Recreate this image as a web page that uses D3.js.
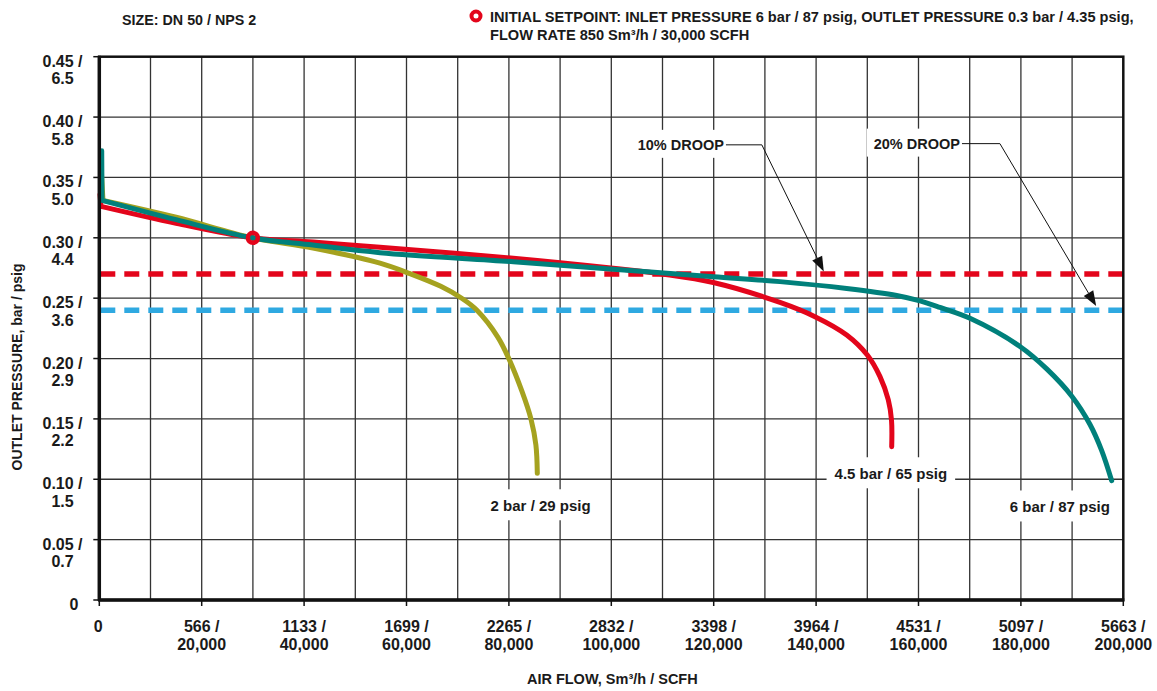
<!DOCTYPE html>
<html>
<head>
<meta charset="utf-8">
<script src="https://cdn.jsdelivr.net/npm/d3@7"></script>
<style>
  body { margin: 0; background: #fff; }
  svg text { font-family: "Liberation Sans", Arial, sans-serif; font-weight: bold; fill: #1a1a1a; }
</style>
</head>
<body>
<svg id="chart"></svg>
<script>
// axis ticks
const xTicksScfh = [0, 20000, 40000, 60000, 80000, 100000, 120000, 140000, 160000, 180000, 200000];
const xTicksSm3 = ["0", "566", "1133", "1699", "2265", "2832", "3398", "3964", "4531", "5097", "5663"];
const yTicksBar = [0, 0.05, 0.10, 0.15, 0.20, 0.25, 0.30, 0.35, 0.40, 0.45];
const yTicksBarLabel = ["0", "0.05", "0.10", "0.15", "0.20", "0.25", "0.30", "0.35", "0.40", "0.45"];
const yTicksPsig = ["", "0.7", "1.5", "2.2", "2.9", "3.6", "4.4", "5.0", "5.8", "6.5"];

// 2 bar / 29 psig inlet
const scfh2bar = [330, 720, 15000, 29824, 41738, 54824, 60684, 66700, 70781, 73711, 77832, 80020, 82558, 84316, 85273, 85547];
const bar2bar  = [0.360, 0.331, 0.317, 0.300, 0.2915, 0.279, 0.2703, 0.2598, 0.2499, 0.2402, 0.2178, 0.1996, 0.1728, 0.1499, 0.1284, 0.1049];

// 4.5 bar / 65 psig inlet
const scfh45bar = [140, 330, 15000, 29824, 41738, 54824, 80859, 100391, 110039, 119922, 132949, 139785, 145977, 150000, 152480, 154102, 154727, 154766];
const bar45bar  = [0.336, 0.326, 0.312, 0.300, 0.2965, 0.2921, 0.283, 0.2747, 0.270, 0.263, 0.2465, 0.2347, 0.2195, 0.2029, 0.185, 0.1657, 0.149, 0.127];

// 6 bar / 87 psig inlet
const scfh6bar = [470, 530, 15000, 29824, 41738, 54824, 80859, 100391, 119922, 132949, 145977, 155742, 160293, 164199, 170059, 180020, 185039, 189980, 193496, 195781, 197734];
const bar6bar  = [0.372, 0.331, 0.315, 0.300, 0.294, 0.2877, 0.2802, 0.274, 0.2678, 0.2637, 0.258, 0.2522, 0.2477, 0.2423, 0.2333, 0.2094, 0.1914, 0.1686, 0.1454, 0.1238, 0.0988];

const seriesNames = ["2 bar / 29 psig", "4.5 bar / 65 psig", "6 bar / 87 psig"];

// droop lines and setpoint
const droopLabels = ["10% DROOP", "20% DROOP"];
const droopValues = [0.27, 0.24];
const setpointScfh = 30000;
const setpointBar = 0.30;

class DroopChart {
  constructor(_config) {
    this.config = {
      parentElement: _config.parentElement,
      containerWidth: _config.containerWidth || 1157,
      containerHeight: _config.containerHeight || 691,
      margin: { top: 56.7, bottom: 91, right: 33.7, left: 99.3 }
    }
    this.initVis();
  }

  initVis() {
    let vis = this;
    vis.width = vis.config.containerWidth - vis.config.margin.left - vis.config.margin.right;
    vis.height = vis.config.containerHeight - vis.config.margin.top - vis.config.margin.bottom;

    vis.svg = d3.select(vis.config.parentElement)
        .attr('width', vis.config.containerWidth)
        .attr('height', vis.config.containerHeight);

    vis.xScale = d3.scaleLinear()
        .domain([0, 200000])
        .range([vis.config.margin.left, vis.config.margin.left + vis.width]);

    vis.yScale = d3.scaleLinear()
        .domain([0, 0.45])
        .range([vis.config.margin.top + vis.height, vis.config.margin.top]);

    vis.colors = {
      olive: '#a5a21f',
      red: '#e3051b',
      teal: '#00807b',
      blue: '#2fa9e1'
    };

    vis.renderVis();
  }

  renderVis() {
    let vis = this;
    const x = vis.xScale, y = vis.yScale;
    const x0 = x(0), x1 = x(200000), y0 = y(0), y1 = y(0.45);

    // grid
    const grid = vis.svg.append('g').attr('class', 'grid');
    grid.selectAll('.vgrid')
      .data(d3.range(10000, 200000, 10000))
      .join('line')
      .attr('x1', d => x(d)).attr('x2', d => x(d))
      .attr('y1', y1).attr('y2', y0)
      .attr('stroke', '#333').attr('stroke-width', 1.3);
    grid.selectAll('.hgrid')
      .data(yTicksBar.slice(1, -1))
      .join('line')
      .attr('x1', x0).attr('x2', x1)
      .attr('y1', d => y(d)).attr('y2', d => y(d))
      .attr('stroke', '#333').attr('stroke-width', 1.3);

    // white boxes behind labels (cut the grid)
    vis.labelLayer = vis.svg.append('g');

    // droop dashed lines
    vis.svg.selectAll('.droop')
      .data(droopValues)
      .join('line')
      .attr('x1', x0 + 1).attr('x2', x1)
      .attr('y1', d => y(d)).attr('y2', d => y(d))
      .attr('stroke', (d, i) => i === 0 ? vis.colors.red : vis.colors.blue)
      .attr('stroke-width', 5.5)
      .attr('stroke-dasharray', '15,9');

    // curves: straight start-up spike, then a smooth curve
    const line = d3.line()
      .x(d => x(d[0]))
      .y(d => y(d[1]))
      .curve(d3.curveCatmullRom.alpha(0.5));
    const curvePath = pts => `M${x(pts[0][0])},${y(pts[0][1])}L` + line(pts.slice(1)).slice(1);

    const curves = [
      { pts: d3.zip(scfh2bar, bar2bar), color: vis.colors.olive },
      { pts: d3.zip(scfh45bar, bar45bar), color: vis.colors.red },
      { pts: d3.zip(scfh6bar, bar6bar), color: vis.colors.teal }
    ];
    vis.svg.selectAll('.curve')
      .data(curves)
      .join('path')
      .attr('class', 'curve')
      .attr('d', d => curvePath(d.pts))
      .attr('fill', 'none')
      .attr('stroke', d => d.color)
      .attr('stroke-width', 5)
      .attr('stroke-linecap', 'round')
      .attr('stroke-linejoin', 'round');

    // setpoint marker
    vis.svg.append('circle')
      .attr('cx', x(setpointScfh)).attr('cy', y(setpointBar))
      .attr('r', 5)
      .attr('fill', 'none')
      .attr('stroke', vis.colors.red)
      .attr('stroke-width', 4.5);

    // frame
    vis.svg.append('rect')
      .attr('x', x0).attr('y', y1)
      .attr('width', x1 - x0).attr('height', y0 - y1)
      .attr('fill', 'none').attr('stroke', '#111').attr('stroke-width', 2.5);
    vis.svg.append('line').attr('x1', x0).attr('x2', x0).attr('y1', y1 - 1).attr('y2', y0 + 1)
      .attr('stroke', '#111').attr('stroke-width', 3.5);
    vis.svg.append('line').attr('x1', x0 - 1).attr('x2', x1 + 1).attr('y1', y0).attr('y2', y0)
      .attr('stroke', '#111').attr('stroke-width', 3.5);

    // y ticks and labels
    const yAxis = vis.svg.append('g');
    yAxis.selectAll('line')
      .data(yTicksBar)
      .join('line')
      .attr('x1', x0 - 6).attr('x2', x0)
      .attr('y1', d => y(d)).attr('y2', d => y(d))
      .attr('stroke', '#111').attr('stroke-width', 1.5);
    const yl = yAxis.selectAll('text')
      .data(yTicksBar)
      .join('text')
      .attr('text-anchor', 'middle')
      .style('font-size', '16px');
    yl.append('tspan')
      .attr('x', (d, i) => i === 0 ? 74 : 62.5)
      .attr('y', d => y(d) + 10)
      .text((d, i) => i === 0 ? yTicksBarLabel[i] : yTicksBarLabel[i] + ' /');
    yl.append('tspan')
      .attr('x', 62.5)
      .attr('y', d => y(d) + 27.5)
      .text((d, i) => yTicksPsig[i]);

    // x ticks and labels
    const xAxis = vis.svg.append('g');
    xAxis.selectAll('line')
      .data(xTicksScfh)
      .join('line')
      .attr('x1', d => x(d)).attr('x2', d => x(d))
      .attr('y1', y0).attr('y2', y0 + 6)
      .attr('stroke', '#111').attr('stroke-width', 1.5);
    const xl = xAxis.selectAll('text')
      .data(xTicksScfh)
      .join('text')
      .attr('text-anchor', 'middle')
      .style('font-size', '16px');
    xl.append('tspan')
      .attr('x', d => d === 0 ? x(d) - 1 : x(d))
      .attr('y', y0 + 31.5)
      .text((d, i) => i === 0 ? xTicksSm3[i] : xTicksSm3[i] + ' /');
    xl.append('tspan')
      .attr('x', d => x(d))
      .attr('y', y0 + 50)
      .text(d => d === 0 ? '' : d3.format(',')(d));

    // axis titles
    vis.svg.append('text')
      .attr('x', x(100000) + 1).attr('y', 684)
      .attr('text-anchor', 'middle')
      .style('font-size', '14.5px')
      .text('AIR FLOW, Sm³/h / SCFH');
    vis.svg.append('text')
      .attr('transform', `translate(22, 367) rotate(-90)`)
      .attr('text-anchor', 'middle')
      .style('font-size', '14px')
      .text('OUTLET PRESSURE, bar / psig');

    // header
    vis.svg.append('text')
      .attr('x', 122).attr('y', 25)
      .style('font-size', '14.3px')
      .text('SIZE: DN 50 / NPS 2');
    vis.svg.append('circle')
      .attr('cx', 476).attr('cy', 16).attr('r', 4.5)
      .attr('fill', '#fff').attr('stroke', vis.colors.red).attr('stroke-width', 4);
    const legend = vis.svg.append('text').style('font-size', '14.6px');
    legend.append('tspan').attr('x', 490).attr('y', 22)
      .text('INITIAL SETPOINT: INLET PRESSURE 6 bar / 87 psig, OUTLET PRESSURE 0.3 bar / 4.35 psig,');
    legend.append('tspan').attr('x', 490).attr('y', 40)
      .text('FLOW RATE 850 Sm³/h / 30,000 SCFH');

    // curve labels with white backing
    const curveLabels = [
      { text: seriesNames[0], sx: 86200, sb: 0.0735 },
      { text: seriesNames[1], sx: 154600, sb: 0.100 },
      { text: seriesNames[2], sx: 187600, sb: 0.0725 }
    ];
    curveLabels.forEach(l => {
      const t = vis.svg.append('text')
        .attr('x', x(l.sx)).attr('y', y(l.sb))
        .attr('text-anchor', 'middle')
        .style('font-size', '15px')
        .text(l.text);
      const b = t.node().getBBox();
      vis.labelLayer.append('rect')
        .attr('x', b.x - 8).attr('y', b.y - 8)
        .attr('width', b.width + 16).attr('height', b.height + 14)
        .attr('fill', '#fff');
    });

    // droop annotations
    const droopNotes = [
      { text: droopLabels[0], endX: 122000, lineY: 0.377, elbowX: 129400, tipX: 141500, tipY: droopValues[0] + 0.002 },
      { text: droopLabels[1], endX: 168100, lineY: 0.378, elbowX: 175900, tipX: 194700, tipY: droopValues[1] + 0.0035 }
    ];
    droopNotes.forEach(n => {
      const t = vis.svg.append('text')
        .attr('x', x(n.endX)).attr('y', y(n.lineY) + 5)
        .attr('text-anchor', 'end')
        .style('font-size', '14.5px')
        .text(n.text);
      const b = t.node().getBBox();
      vis.labelLayer.append('rect')
        .attr('x', b.x - 7).attr('y', b.y - 7)
        .attr('width', b.width + 14).attr('height', b.height + 12)
        .attr('fill', '#fff');

      const ex = x(n.elbowX), ey = y(n.lineY);
      const tx = x(n.tipX), ty = y(n.tipY);
      const ang = Math.atan2(ty - ey, tx - ex);
      const len = 15, half = 5.5;
      const bx = tx - len * Math.cos(ang), by = ty - len * Math.sin(ang);
      vis.svg.append('path')
        .attr('d', `M${x(n.endX) + 2},${ey}L${ex},${ey}L${bx},${by}`)
        .attr('fill', 'none').attr('stroke', '#111').attr('stroke-width', 1);
      vis.svg.append('path')
        .attr('d', `M${tx},${ty}L${bx - half * Math.sin(ang)},${by + half * Math.cos(ang)}L${bx + half * Math.sin(ang)},${by - half * Math.cos(ang)}Z`)
        .attr('fill', '#111');
    });
  }
}

new DroopChart({ parentElement: '#chart' });
</script>
</body>
</html>
